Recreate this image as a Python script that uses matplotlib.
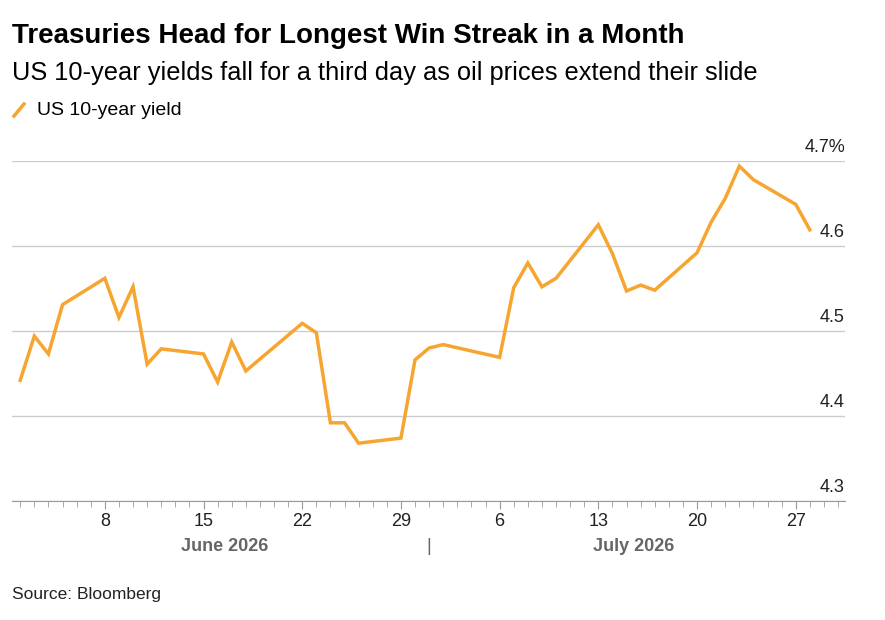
import numpy as np
import pandas as pd
import matplotlib.pyplot as plt
import matplotlib.dates as mdates

dates = pd.to_datetime([
    "2026-06-02", "2026-06-03", "2026-06-04", "2026-06-05", "2026-06-08",
    "2026-06-09", "2026-06-10", "2026-06-11", "2026-06-12", "2026-06-15",
    "2026-06-16", "2026-06-17", "2026-06-18", "2026-06-22", "2026-06-23",
    "2026-06-24", "2026-06-25", "2026-06-26", "2026-06-29", "2026-06-30",
    "2026-07-01", "2026-07-02", "2026-07-06", "2026-07-07", "2026-07-08",
    "2026-07-09", "2026-07-10", "2026-07-13", "2026-07-14", "2026-07-15",
    "2026-07-16", "2026-07-17", "2026-07-20", "2026-07-21", "2026-07-22",
    "2026-07-23", "2026-07-24", "2026-07-27", "2026-07-28"])
yields = [4.442, 4.494, 4.473, 4.531, 4.562, 4.516, 4.552, 4.461, 4.479, 4.473,
          4.440, 4.487, 4.453, 4.509, 4.498, 4.392, 4.392, 4.368, 4.374, 4.466,
          4.480, 4.484, 4.469, 4.551, 4.580, 4.552, 4.562, 4.625, 4.591, 4.547,
          4.554, 4.548, 4.592, 4.628, 4.656, 4.694, 4.678, 4.649, 4.619]
yticks = [4.3, 4.4, 4.5, 4.6, 4.7]
ytick_labels = ["4.3", "4.4", "4.5", "4.6", "4.7%"]
orange = "#f7a531"

plt.rcParams['font.family'] = ['Liberation Sans', 'DejaVu Sans']
fig = plt.figure(figsize=(8.85, 6.2), dpi=100)
ax = fig.add_axes([12/885, 1-501/620, (845-12)/885, (501-161)/620])

ax.plot(dates, yields, color=orange, lw=2.5, solid_joinstyle='miter')
x0 = pd.Timestamp("2026-06-01 10:00")
x1 = x0 + pd.Timedelta(days=(845-12)/14.1)
ax.set_xlim(x0, x1)
ax.set_ylim(4.3, 4.7)

for y, lab in zip(yticks, ytick_labels):
    ax.axhline(y, color="#cccccc", lw=1, zorder=0)
    ax.text(1.0, y + 0.006, lab, transform=ax.get_yaxis_transform(),
            ha="right", va="bottom", fontsize=13, color="#222222")
ax.set_yticks([])

for s in ["top", "right", "left"]:
    ax.spines[s].set_visible(False)
ax.spines["bottom"].set_color("#999999")

ax.xaxis.set_major_locator(mdates.WeekdayLocator(byweekday=mdates.MO))
ax.xaxis.set_major_formatter(mdates.DateFormatter("%-d"))
ax.xaxis.set_minor_locator(mdates.DayLocator())
ax.tick_params(axis="x", which="major", length=6, color="#999999",
               labelsize=13, labelcolor="#222222", pad=3)
ax.tick_params(axis="x", which="minor", length=4, color="#999999")

trans = ax.get_xaxis_transform()
ax.text(pd.Timestamp("2026-06-16 12:00"), -0.135, "June 2026", transform=trans,
        ha="center", va="center", fontsize=13, color="#666666", fontweight="bold")
ax.text(pd.Timestamp("2026-07-15 12:00"), -0.135, "July 2026", transform=trans,
        ha="center", va="center", fontsize=13, color="#666666", fontweight="bold")
ax.text(pd.Timestamp("2026-07-01"), -0.135, "|", transform=trans,
        ha="center", va="center", fontsize=13, color="#666666")

fig.text(12/885, 1-36/620, "Treasuries Head for Longest Win Streak in a Month",
         fontsize=20, fontweight="bold", va="center")
fig.text(12/885, 1-73/620, "US 10-year yields fall for a third day as oil prices extend their slide",
         fontsize=18.3, va="center")
fig.lines.append(plt.Line2D([14/885, 24/885], [1-116/620, 1-104/620],
                            transform=fig.transFigure, color=orange, lw=2.5))
fig.text(37/885, 1-110/620, "US 10-year yield", fontsize=14, va="center")
fig.text(12/885, 1-594/620, "Source: Bloomberg", fontsize=12.5, va="center", color="#222222")

fig.savefig("out.png", dpi=100)
